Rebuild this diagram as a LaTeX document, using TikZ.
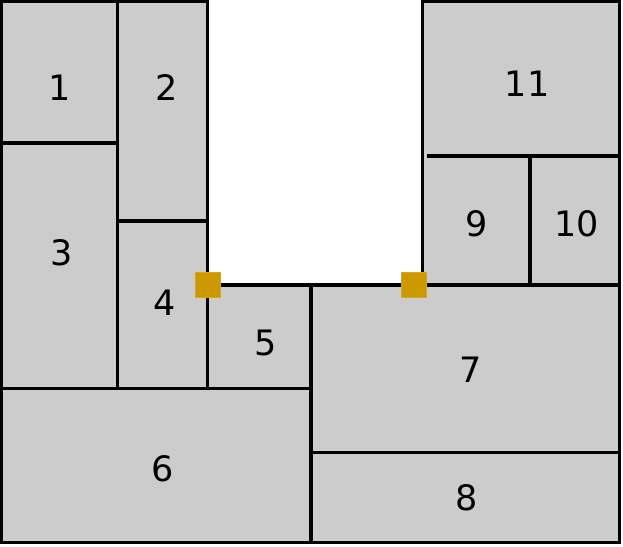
\documentclass[tikz,border=0pt]{standalone}
\usepackage{fontspec}
\setmainfont{DejaVu Sans}
\definecolor{cellgrey}{RGB}{204,204,204}
\definecolor{marker}{RGB}{204,153,0}
\begin{document}
\begin{tikzpicture}[x=1pt,y=-1pt,
  wall/.style={line width=3.7pt, black},
  lbl/.style={inner sep=0pt, font=\fontsize{35}{35}\selectfont},
  mark/.style={}, 
  markerbox/.style={fill=marker, draw=marker!85!white, line width=0.8pt, minimum size=25pt, inner sep=0pt}]
\useasboundingbox (0,0) rectangle (623,546);
% grey fill
\fill[cellgrey] (1.5,1.5) -- (207.5,1.5) -- (207.5,285) -- (422.5,285) -- (422.5,1.5)
  -- (619.5,1.5) -- (619.5,542.5) -- (1.5,542.5) -- cycle;
% walls
\draw[wall, line join=miter] (207.5,388.5) -- (207.5,1.5) -- (1.5,1.5) -- (1.5,542.5)
  -- (619.5,542.5) -- (619.5,1.5) -- (422.5,1.5) -- (422.5,285);
\draw[wall] (117.5,1.5) -- (117.5,388.5);
\draw[wall] (1.5,143.3) -- (117.5,143.3);
\draw[wall] (117.5,221) -- (207.5,221);
\draw[wall] (1.5,388.5) -- (311,388.5);
\draw[wall] (207.5,285) -- (619.5,285);
\draw[wall] (311,285) -- (311,542.5);
\draw[wall] (311,452.5) -- (619.5,452.5);
\draw[wall] (426.7,156.3) -- (619.5,156.3);
\draw[wall] (529.7,156.3) -- (529.7,285);
% markers
\node[markerbox] (m1) at (208,285) {};
\node[markerbox] (m2) at (413.8,285) {};
% labels
\node[lbl] (l1) at (60,87.5) {1};
\node[lbl] (l2) at (167,87.5) {2};
\node[lbl] (l3) at (62,253) {3};
\node[lbl] (l4) at (165,303) {4};
\node[lbl] (l5) at (266,342.5) {5};
\node[lbl] (l6) at (163,469) {6};
\node[lbl] (l7) at (470.5,369.7) {7};
\node[lbl] (l8) at (466.7,498) {8};
\node[lbl] (l9) at (476.3,224) {9};
\node[lbl] (l10) at (576.7,223.3) {10};
\node[lbl] (l11) at (527,83.3) {11};
\end{tikzpicture}
\end{document}
